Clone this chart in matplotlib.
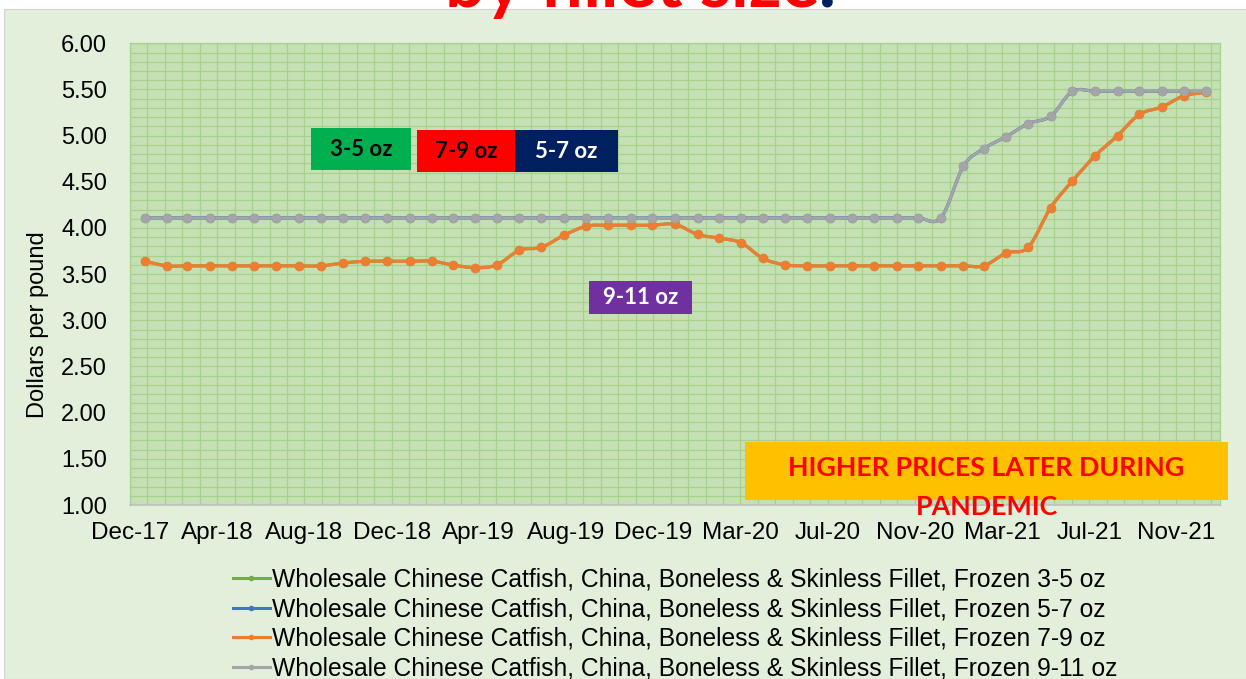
import matplotlib
matplotlib.use('Agg')
import matplotlib.pyplot as plt
import matplotlib.dates as mdates
from matplotlib.path import Path
from matplotlib.patches import PathPatch, Rectangle
from matplotlib.lines import Line2D
import pandas as pd
import datetime as dt

# ---------------- data ----------------
months = pd.date_range('2018-01-01', '2022-01-01', freq='MS')

price_7_9 = [3.64, 3.59, 3.59, 3.59, 3.59, 3.59, 3.59, 3.59, 3.59, 3.62,
             3.64, 3.64, 3.64, 3.64, 3.60, 3.57, 3.60, 3.76, 3.79, 3.92,
             4.02, 4.03, 4.03, 4.03, 4.04, 3.93, 3.89, 3.84, 3.67, 3.60,
             3.59, 3.59, 3.59, 3.59, 3.59, 3.59, 3.59, 3.59, 3.59, 3.73,
             3.79, 4.22, 4.51, 4.78, 5.00, 5.23, 5.31, 5.43, 5.47]
price_9_11 = [4.11, 4.11, 4.11, 4.11, 4.11, 4.11, 4.11, 4.11, 4.11, 4.11,
              4.11, 4.11, 4.11, 4.11, 4.11, 4.11, 4.11, 4.11, 4.11, 4.11,
              4.11, 4.11, 4.11, 4.11, 4.11, 4.11, 4.11, 4.11, 4.11, 4.11,
              4.11, 4.11, 4.11, 4.11, 4.11, 4.11, 4.11, 4.67, 4.86, 4.99,
              5.13, 5.21, 5.48, 5.48, 5.48, 5.48, 5.48, 5.48, 5.48]
# 3-5 oz and 5-7 oz lie hidden under the drawn series
price_3_5 = list(price_7_9)
price_5_7 = list(price_9_11)

series_labels = [
    'Wholesale Chinese Catfish, China, Boneless & Skinless Fillet, Frozen 3-5 oz',
    'Wholesale Chinese Catfish, China, Boneless & Skinless Fillet, Frozen 5-7 oz',
    'Wholesale Chinese Catfish, China, Boneless & Skinless Fillet, Frozen 7-9 oz',
    'Wholesale Chinese Catfish, China, Boneless & Skinless Fillet, Frozen 9-11 oz',
]
series_colors = ['#70AD47', '#4472C4', '#ED7D31', '#A5A5A5']
series_values = [price_3_5, price_5_7, price_7_9, price_9_11]

axis_start = dt.date(2017, 12, 12)
axis_days = 1500
major_days = 120
minor_days = 24
y_ticks = [1.0, 1.5, 2.0, 2.5, 3.0, 3.5, 4.0, 4.5, 5.0, 5.5, 6.0]

W, H = 1246, 679
FONT = 'Liberation Sans'
BOXFONT = 'Lato'


def fx(px):
    return px / W


def fy(py):
    return 1 - py / H


def smooth_path(xs, ys):
    verts = [(xs[0], ys[0])]
    codes = [Path.MOVETO]
    n = len(xs)
    for i in range(n - 1):
        p0 = (xs[i - 1], ys[i - 1]) if i > 0 else (xs[i], ys[i])
        p1 = (xs[i], ys[i])
        p2 = (xs[i + 1], ys[i + 1])
        p3 = (xs[i + 2], ys[i + 2]) if i + 2 < n else p2
        c1 = (p1[0] + (p2[0] - p0[0]) / 6.0, p1[1] + (p2[1] - p0[1]) / 6.0)
        c2 = (p2[0] - (p3[0] - p1[0]) / 6.0, p2[1] - (p3[1] - p1[1]) / 6.0)
        verts += [c1, c2, p2]
        codes += [Path.CURVE4] * 3
    return Path(verts, codes)


fig = plt.figure(figsize=(W / 100, H / 100), dpi=100, facecolor='white')
# chart area background
fig.add_artist(Rectangle((fx(4), 0), 1.0, fy(9), transform=fig.transFigure,
                         facecolor='#E2EFDA', edgecolor='#D4D4D4', lw=0.8, zorder=-10))

ax = fig.add_axes([fx(130), fy(505), fx(1220) - fx(130), fy(43.3) - fy(505)])
ax.set_facecolor('#C5E0B4')

xnum = mdates.date2num(months.to_pydatetime())
x0 = mdates.date2num(axis_start)
ax.set_xlim(x0, x0 + axis_days)
ax.set_ylim(1.0, 6.0)

major_x = [x0 + k * major_days for k in range(axis_days // major_days + 1)]
minor_x = [x0 + k * minor_days for k in range(axis_days // minor_days + 1)]
ax.set_xticks(major_x)
ax.set_xticks(minor_x, minor=True)
ax.xaxis.set_major_formatter(mdates.DateFormatter('%b-%y'))
ax.set_yticks(y_ticks)
ax.set_yticks([1.0 + 0.1 * k for k in range(51)], minor=True)
ax.yaxis.set_major_formatter(matplotlib.ticker.FormatStrFormatter('%.2f'))

grid_col = '#A9D18E'
ax.grid(True, which='both', color=grid_col, lw=0.9, zorder=0)
ax.set_axisbelow(True)
ax.tick_params(which='both', length=0)
ax.tick_params(axis='x', labelsize=17.5, pad=12.5)
ax.tick_params(axis='y', labelsize=17, pad=16.5)
for lab in ax.get_xticklabels() + ax.get_yticklabels():
    lab.set_fontfamily(FONT)
for s in ['left', 'top', 'right']:
    ax.spines[s].set_color(grid_col)
    ax.spines[s].set_linewidth(0.9)
ax.spines['bottom'].set_color('#BFBFBF')
ax.spines['bottom'].set_linewidth(1.2)

lws = [2.3, 2.3, 2.3, 2.0]
handles = []
for vals, col, lab, lw in zip(series_values, series_colors, series_labels, lws):
    ax.add_patch(PathPatch(smooth_path(xnum, vals), fill=False, edgecolor=col,
                           lw=lw, zorder=3, capstyle='round', joinstyle='round'))
    ax.plot(xnum, vals, linestyle='none', marker='o', ms=6.8, color=col,
            markeredgewidth=0, zorder=4)
    handles.append(Line2D([0], [0], color=col, lw=2.2, marker='o', ms=4,
                          markeredgewidth=0, label=lab))

fig.legend(handles=handles, loc='upper center', bbox_to_anchor=(fx(675), fy(568)),
           frameon=False, ncol=1, prop={'family': FONT, 'size': 17.7},
           handlelength=1.5, handletextpad=0.08, labelspacing=0.22,
           borderpad=0, borderaxespad=0)

fig.text(fx(38), fy(325), 'Dollars per pound', rotation=90, ha='center', va='center',
         fontsize=17, family=FONT)


def box(x1, y1, x2, y2, fc, text=None, tc='black', fs=16):
    fig.add_artist(Rectangle((fx(x1), fy(y2)), fx(x2) - fx(x1), fy(y1) - fy(y2),
                             transform=fig.transFigure, facecolor=fc, edgecolor='none',
                             zorder=5))
    if text:
        fig.text(fx((x1 + x2) / 2), fy((y1 + y2) / 2), text, ha='center', va='center',
                 color=tc, fontsize=fs, fontweight='bold', family=BOXFONT, zorder=6)


box(311, 128, 411, 170, '#00B050', '3-5 oz', 'black')
box(417, 130, 515, 172, '#FF0000', '7-9 oz', 'black')
box(515, 130, 618, 172, '#002060', '5-7 oz', 'white')
box(589, 281, 692, 314, '#7030A0', '9-11 oz', 'white')
box(745, 441.6, 1228, 500, '#FFC000')
fig.text(fx(986.5), fy(467.6), 'HIGHER PRICES LATER DURING', ha='center', va='center',
         color='#FF0000', fontsize=19.3, fontweight='bold', family=BOXFONT, zorder=6)
fig.text(fx(986.5), fy(507), 'PANDEMIC', ha='center', va='center',
         color='#FF0000', fontsize=19.3, fontweight='bold', family=BOXFONT, zorder=6)

# slide title (mostly above the visible area, as in the source slide)
t = fig.text(fx(445), fy(7), 'by fillet size', ha='left', va='baseline',
             color='#FF0000', fontsize=51, fontweight='bold', family=BOXFONT, zorder=7)
fig.canvas.draw()
bb = t.get_window_extent()
fig.text(bb.x1 / W, fy(7), '.', ha='left', va='baseline', color='#002060',
         fontsize=51, fontweight='bold', family=BOXFONT, zorder=7)

fig.savefig('out.png', dpi=100, facecolor=fig.get_facecolor())
